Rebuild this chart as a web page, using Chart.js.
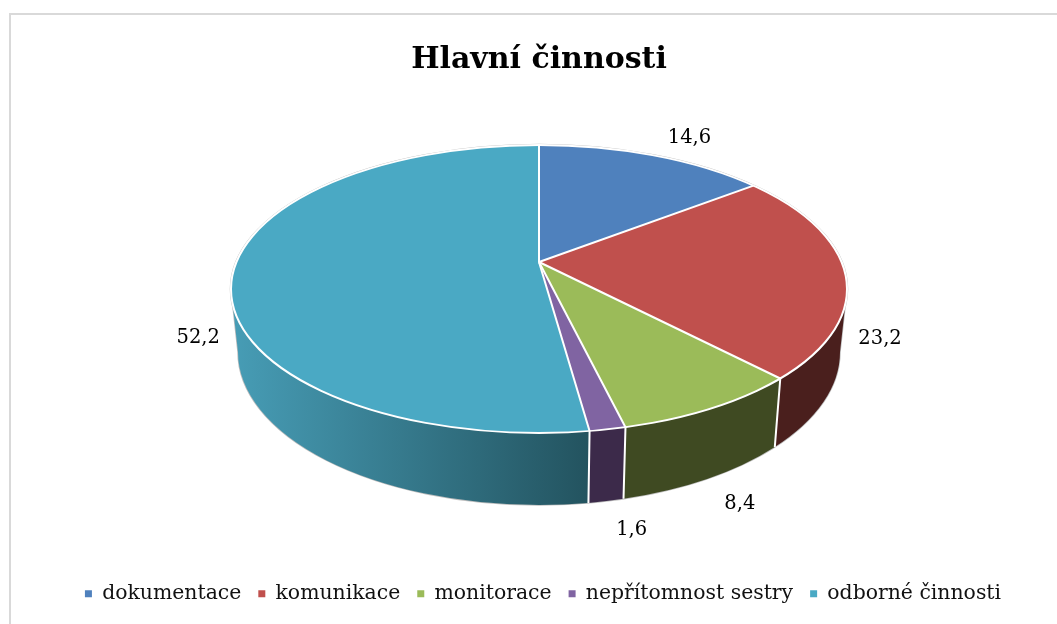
<!DOCTYPE html>
<html lang="cs">
<head>
<meta charset="utf-8">
<title>Hlavní činnosti</title>
<script src="https://cdn.jsdelivr.net/npm/chart.js@4"></script>
<style>html,body{margin:0;padding:0;background:#fff}canvas{display:block}</style>
</head>
<body>
<canvas id="c" width="1057" height="624"></canvas>
<script>
const titleText = "Hlavní činnosti";
const categories = ["dokumentace", "komunikace", "monitorace", "nepřítomnost sestry", "odborné činnosti"];
const values = [14.6, 23.2, 8.4, 1.6, 52.2];
const topColors = ["#4f81bd", "#c0504d", "#9bbb59", "#8064a2", "#4aa9c4"];
const wallColors = ["#2e4a6e", "#4a1f1d", "#3f4a22", "#3c2a4a", null];
const labelNudges = [[37, -17], [35, 66], [28, 96], [24, 101], [-35, 66]];

const FONT = '"DejaVu Serif"';
const apex = {x: 539, y: 262};
const squash = 0.465;
const topE = {cx: 539, cy: 289, rx: 308, ry: 144};
const botE = {cx: 539, cy: 352, rx: 301, ry: 153};

function tOfAngle(th) {
  const dx = Math.cos(th), dy = squash * Math.sin(th);
  const ox = (apex.x - topE.cx) / topE.rx, oy = (apex.y - topE.cy) / topE.ry;
  const ax = dx / topE.rx, ay = dy / topE.ry;
  const A = ax * ax + ay * ay, B = 2 * (ox * ax + oy * ay), C = ox * ox + oy * oy - 1;
  const d = (-B + Math.sqrt(B * B - 4 * A * C)) / (2 * A);
  let t = Math.atan2(oy + ay * d, ox + ax * d);
  t += 2 * Math.PI * Math.round((th - t) / (2 * Math.PI));
  return t;
}
const onE = (E, t) => ({x: E.cx + E.rx * Math.cos(t), y: E.cy + E.ry * Math.sin(t)});

const pie3d = {
  id: "pie3d",
  afterLayout(chart) {
    chart.legend.left += 8;
  },
  beforeDraw(chart) {
    const c = chart.ctx;
    c.save();
    c.strokeStyle = "#d9d9d9";
    c.lineWidth = 2;
    c.beginPath();
    c.moveTo(10, 630);
    c.lineTo(10, 14);
    c.lineTo(1060, 14);
    c.stroke();
    c.restore();
  },
  beforeDatasetsDraw(chart) {
    const c = chart.ctx, arcs = chart.getDatasetMeta(0).data;
    // silhouette
    c.save();
    c.strokeStyle = "#bdbdbd";
    c.lineWidth = 1.5;
    c.beginPath();
    c.ellipse(topE.cx, topE.cy, topE.rx + 0.5, topE.ry + 0.5, 0, 0, 2 * Math.PI);
    c.stroke();
    c.beginPath();
    c.moveTo(topE.cx + topE.rx, topE.cy);
    c.lineTo(botE.cx + botE.rx, botE.cy);
    c.ellipse(botE.cx, botE.cy, botE.rx, botE.ry, 0, 0, Math.PI);
    c.lineTo(topE.cx - topE.rx, topE.cy);
    c.stroke();
    // walls
    arcs.forEach((arc, i) => {
      const t0 = Math.max(tOfAngle(arc.startAngle), 0);
      const t1 = Math.min(tOfAngle(arc.endAngle), Math.PI);
      if (t1 <= t0) return;
      c.beginPath();
      c.ellipse(topE.cx, topE.cy, topE.rx, topE.ry, 0, t0, t1);
      const b = onE(botE, t1);
      c.lineTo(b.x, b.y);
      c.ellipse(botE.cx, botE.cy, botE.rx, botE.ry, 0, t1, t0, true);
      c.closePath();
      if (wallColors[i]) {
        c.fillStyle = wallColors[i];
      } else {
        const g = c.createLinearGradient(topE.cx - topE.rx, 0, onE(topE, t0).x, 0);
        g.addColorStop(0, "#479db6");
        g.addColorStop(1, "#23535f");
        c.fillStyle = g;
      }
      c.fill();
    });
    c.restore();
    // top face: the library's arcs, squashed and clipped to the rim
    const a0 = arcs[0];
    c.save();
    c.beginPath();
    c.ellipse(topE.cx, topE.cy, topE.rx, topE.ry, 0, 0, 2 * Math.PI);
    c.clip();
    c.translate(apex.x, apex.y);
    c.scale(1, squash);
    c.translate(-a0.x, -a0.y);
  },
  afterDatasetsDraw(chart) {
    const c = chart.ctx, arcs = chart.getDatasetMeta(0).data;
    c.restore();
    c.save();
    c.strokeStyle = "#ffffff";
    c.lineWidth = 2;
    c.lineJoin = "round";
    arcs.forEach((arc) => {
      const th = arc.startAngle, t = tOfAngle(th), p = onE(topE, t);
      c.beginPath();
      c.moveTo(apex.x, apex.y);
      c.lineTo(p.x, p.y);
      const nt = ((t % (2 * Math.PI)) + 2 * Math.PI) % (2 * Math.PI);
      if (nt > 0 && nt < Math.PI) {
        const b = onE(botE, nt);
        c.lineTo(b.x, b.y);
      }
      c.stroke();
    });
    c.beginPath();
    c.ellipse(topE.cx, topE.cy, topE.rx, topE.ry, 0, 0, 2 * Math.PI);
    c.stroke();
    // value labels
    c.fillStyle = "#000";
    c.font = "19.5px " + FONT;
    c.textAlign = "center";
    c.textBaseline = "middle";
    arcs.forEach((arc, i) => {
      const p = onE(topE, tOfAngle((arc.startAngle + arc.endAngle) / 2));
      c.fillText(values[i].toFixed(1).replace(".", ","), p.x + labelNudges[i][0], p.y + labelNudges[i][1]);
    });
    c.restore();
  }
};

new Chart(document.getElementById("c"), {
  type: "pie",
  data: {
    labels: categories,
    datasets: [{
      data: values,
      backgroundColor: topColors,
      borderWidth: 0,
      radius: 370,
      clip: false
    }]
  },
  options: {
    responsive: false,
    animation: false,
    events: [],
    layout: {padding: {left: 21, bottom: 10, top: 42}},
    plugins: {
      tooltip: {enabled: false},
      title: {
        display: true,
        text: titleText,
        color: "#000",
        font: {family: FONT, size: 30, weight: "bold"},
        padding: {top: 0, bottom: 0}
      },
      legend: {
        display: true,
        position: "bottom",
        labels: {
          color: "#111",
          font: {family: FONT, size: 20.4},
          boxWidth: 7,
          boxHeight: 7,
          padding: 17
        }
      }
    }
  },
  plugins: [pie3d]
});
</script>
</body>
</html>
